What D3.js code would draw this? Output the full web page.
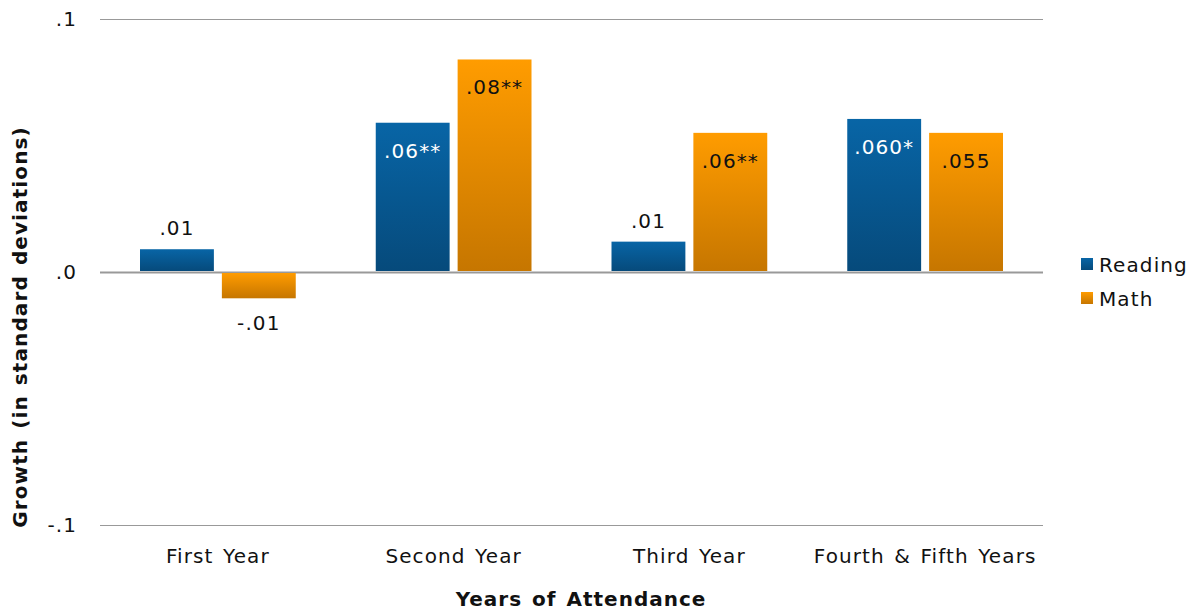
<!DOCTYPE html>
<html><head><meta charset="utf-8">
<script src="https://cdn.jsdelivr.net/npm/d3@7"></script>
<style>
body{margin:0;background:#fff;}
text{font-family:"DejaVu Sans",Verdana,sans-serif;letter-spacing:1.1px;word-spacing:2px;}
</style></head>
<body><svg id="c" width="1194" height="611"></svg>
<script>
const categories = ["First Year","Second Year","Third Year","Fourth & Fifth Years"];
const series = ["Reading","Math"];
const reading = [0.009, 0.059, 0.012, 0.0605];
const math = [-0.010, 0.084, 0.055, 0.055];
const readingLabels = [".01", ".06**", ".01", ".060*"];
const mathLabels = ["-.01", ".08**", ".06**", ".055"];
const yTicks = [-0.1, 0, 0.1];
const yTickLabels = ["-.1", ".0", ".1"];

const svg = d3.select("#c");
const L = 100, R = 1043, T = 19, B = 525;
const y = d3.scaleLinear().domain([-0.1, 0.1]).range([B, T]);
const x0 = d3.scaleBand().domain(categories).range([L, R]).padding(0);
const x1 = d3.scaleBand().domain(series).range([40, x0.bandwidth() - 40]).paddingInner(0.0976).paddingOuter(0);

const defs = svg.append("defs");
function grad(id, top, bot) {
  const g = defs.append("linearGradient").attr("id", id).attr("x1",0).attr("y1",0).attr("x2",0).attr("y2",1);
  g.append("stop").attr("offset","0%").attr("stop-color",top);
  g.append("stop").attr("offset","100%").attr("stop-color",bot);
}
grad("gR", "#0865a6", "#064a7b");
grad("gM", "#ff9c00", "#c67600");
const fills = {Reading: "url(#gR)", Math: "url(#gM)"};

const yAxis = d3.axisLeft(y).tickValues(yTicks).tickFormat((d,i) => yTickLabels[i]).tickSize(-(R - L)).tickPadding(23);
const ga = svg.append("g").attr("transform", `translate(${L},0)`).call(yAxis);
ga.select(".domain").remove();
ga.selectAll(".tick line").attr("stroke", "#999").attr("stroke-width", d => d === 0 ? 2 : 1);
ga.selectAll(".tick text").attr("font-size", 20).attr("fill", "#111").attr("font-family","DejaVu Sans, Verdana, sans-serif");

const data = categories.map((c, i) => ({c, vals: [
  {s: "Reading", v: reading[i], lab: readingLabels[i]},
  {s: "Math", v: math[i], lab: mathLabels[i]}
]}));

const groups = svg.append("g").selectAll("g").data(data).join("g")
  .attr("transform", d => `translate(${x0(d.c)},0)`);
groups.selectAll("rect").data(d => d.vals).join("rect")
  .attr("x", d => x1(d.s)).attr("width", x1.bandwidth())
  .attr("y", d => y(Math.max(0, d.v)) + (d.v >= 0 ? 0 : 1))
  .attr("height", d => Math.abs(y(d.v) - y(0)) - (d.v >= 0 ? 1 : 0))
  .attr("fill", d => fills[d.s]);

groups.selectAll("text").data(d => d.vals).join("text")
  .attr("x", d => x1(d.s) + x1.bandwidth() / 2)
  .attr("y", d => {
    const big = Math.abs(y(d.v) - y(0)) > 60;
    if (big) return y(d.v) + 35;
    return d.v >= 0 ? y(d.v) - 14 : y(d.v) + 33;
  })
  .attr("text-anchor", "middle").attr("font-size", 20)
  .attr("fill", d => {
    const big = Math.abs(y(d.v) - y(0)) > 60;
    return big && d.s === "Reading" ? "#fff" : "#111";
  })
  .text(d => d.lab);

svg.append("g").selectAll("text").data(categories).join("text")
  .attr("x", d => x0(d) + x0.bandwidth() / 2).attr("y", 563)
  .attr("text-anchor", "middle").attr("font-size", 20).attr("fill", "#111")
  .text(d => d);

svg.append("text").attr("x", 581).attr("y", 606).attr("text-anchor", "middle")
  .attr("font-size", 20).attr("font-weight", "bold").attr("fill", "#111").style("letter-spacing","1px").style("word-spacing","2px").text("Years of Attendance");
svg.append("text").attr("transform", "translate(27,327) rotate(-90)").attr("text-anchor", "middle")
  .attr("font-size", 20).attr("font-weight", "bold").attr("fill", "#111").text("Growth (in standard deviations)");

const lg = svg.append("g").selectAll("g").data(series).join("g")
  .attr("transform", (d, i) => `translate(1081,${258 + i * 34})`);
lg.append("rect").attr("width", 12).attr("height", 12).attr("fill", d => fills[d]);
lg.append("text").attr("x", 18).attr("y", 14).attr("font-size", 20).attr("fill", "#111").text(d => d);
</script></body></html>
